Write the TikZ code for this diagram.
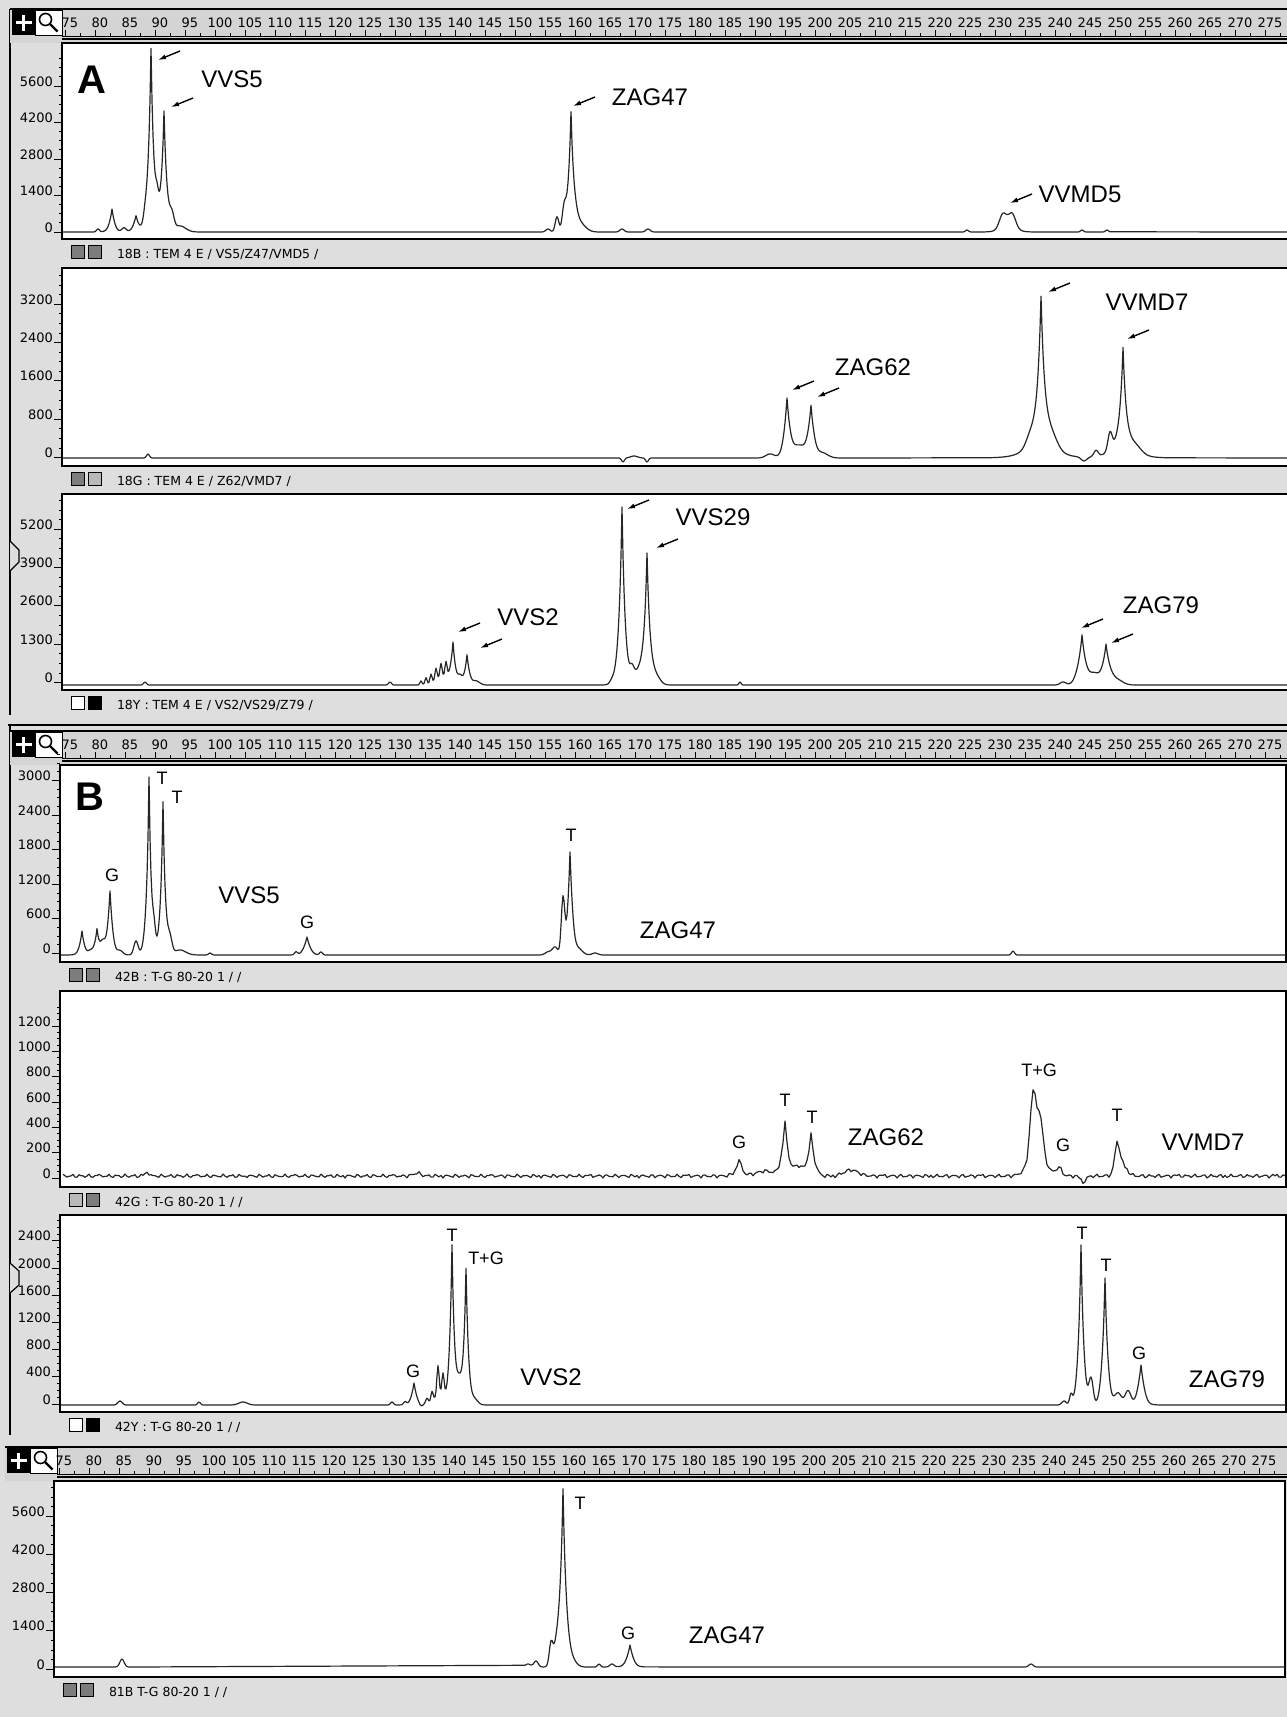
\documentclass[tikz,border=0pt]{standalone}
\usepackage{fontspec}
\setmainfont{Liberation Sans}
\newfontfamily\scrfont{DejaVu Sans}
\usetikzlibrary{arrows.meta,positioning}
\definecolor{bggray}{RGB}{222,222,222}
\definecolor{rulergray}{RGB}{212,212,212}
\definecolor{chipgray}{RGB}{125,125,125}
\definecolor{chiplight}{RGB}{185,185,185}
\tikzset{
    basic/.style={inner sep=0pt, outer sep=0pt},
    frame/.style={draw, line width=1.6pt, fill=white},
    trace/.style={line width=1.2pt, black!85, line join=round},
    scale label/.style={basic, font=\scrfont\fontsize{13}{13}\selectfont},
    axis label/.style={basic, anchor=base east, font=\scrfont\fontsize{13}{13}\selectfont},
    band text/.style={basic, anchor=base west, font=\scrfont\fontsize{12.5}{13}\selectfont},
    chip/.style={basic, draw, line width=1pt, minimum size=13pt},
    panel letter/.style={basic, font=\bfseries\fontsize{40}{40}\selectfont},
    marker/.style={basic, font=\fontsize{24}{24}\selectfont},
    allele/.style={basic, font=\fontsize{18}{18}\selectfont},
    pointer/.style={{Latex[length=8pt,width=5pt]}-, line width=1.4pt},
    declare function={
        pk(\X,\M,\W)=exp(-min(abs(\X-\M)/\W,9));
        gs(\X,\M,\W)=exp(-pow(min(abs(\X-\M)/\W,4),2));
    }
}
% ruler bar: left edge, top, first label x, name
\newcommand{\scalebar}[4]{%
    \fill[rulergray] (#1,#2) rectangle (1292,#2+34);
    \draw[line width=2pt] (#1,#2) -- (1292,#2);
    \node[basic, fill=black, minimum width=23pt, minimum height=25pt, anchor=north west] (#4-plus) at (#1+2,#2+1) {};
    \draw[white, line width=2.6pt] ([xshift=-8pt]#4-plus.center) -- ([xshift=8pt]#4-plus.center)
        ([yshift=-8pt]#4-plus.center) -- ([yshift=8pt]#4-plus.center);
    \node[basic, fill=white, draw, line width=0.8pt, minimum width=27pt, minimum height=25pt, right=0pt of #4-plus] (#4-lens) {};
    \draw[line width=1.6pt] ([shift={(-3pt,3pt)}]#4-lens.center) circle (6pt);
    \draw[line width=2.4pt] ([shift={(1.5pt,-1.5pt)}]#4-lens.center) -- ([shift={(9pt,-9pt)}]#4-lens.center);
    \foreach \v [count=\i from 0] in {75,80,...,275} {
        \node[scale label] (#4-s\i) at (#3+\i*30, #2+14) {\v};
        \draw[line width=1pt] (#3+\i*30-5, #2+21) -- (#3+\i*30-5, #2+27);
        \draw[line width=0.8pt] (#3+\i*30+10, #2+24) -- (#3+\i*30+10, #2+27);
    }
    \draw[line width=1pt] (#1+52,#2+27) -- (1292,#2+27);
    \draw[line width=1.6pt] (#1+52,#2+30) -- (1292,#2+30);
}
% plot body: left, top, bottom, right, chip colours, channel text, name
\newcommand{\plotpanel}[8]{%
    \draw[frame] (#1,#2) rectangle (#4,#3);
    \node[chip, fill=#5, anchor=north west] (#8-c1) at (#1+9,#3+6) {};
    \node[chip, fill=#6, right=4pt of #8-c1] (#8-c2) {};
    \node[band text] (#8-txt) at (#1+55,#3+19) {#7};
}
% y axis: axis x, zero line, step, labels, name
\newcommand{\yaxis}[5]{%
    \foreach \v [count=\i from 0] in {#4} {
        \node[axis label] (#5-\i) at (#1-9, #2-\i*#3) {\v};
        \draw[line width=1pt] (#1-8, #2-\i*#3) -- (#1, #2-\i*#3);
        \foreach \k in {1,2,3}
            \draw[line width=0.8pt] (#1-3, #2-\i*#3-\k*#3/4) -- (#1, #2-\i*#3-\k*#3/4);
    }
}

\begin{document}
\begin{tikzpicture}[x=1pt,y=-1pt]
    \useasboundingbox (0,0) rectangle (1287,1717);
    \fill[bggray] (0,0) rectangle (1287,1717);

    % ---------------- window A
    \draw[line width=1.6pt] (10,9) -- (10,715);
    \draw[fill=bggray, line width=1.2pt] (10,541) -- (19,550) -- (19,562) -- (10,571);
    \scalebar{10}{9}{70}{ra}
    \plotpanel{62}{43}{239}{1292}{chipgray}{chipgray}{18B : TEM 4 E / VS5/Z47/VMD5 /}{a1}
    \plotpanel{62}{268}{466}{1292}{chipgray}{chiplight}{18G : TEM 4 E / Z62/VMD7 /}{a2}
    \plotpanel{62}{494}{690}{1292}{white}{black}{18Y : TEM 4 E / VS2/VS29/Z79 /}{a3}
    \yaxis{62}{232}{36.5}{0,1400,2800,4200,5600}{ya1}
    \yaxis{62}{457.5}{38.3}{0,800,1600,2400,3200}{ya2}
    \yaxis{62}{682.5}{38.3}{0,1300,2600,3900,5200}{ya3}

    \draw[trace] (63,232)
        -- plot[domain=92:200,samples=109] (\x,{232-(3*gs(\x,98,2)+18*pk(\x,112,2.5)+5*gs(\x,112,4)+4*gs(\x,124,3)+12*pk(\x,136,2.8)+4*gs(\x,136,4)+5*gs(\x,145,2)+145*pk(\x,151,2.3)+38*gs(\x,151,6)+14*gs(\x,157,2)+92*pk(\x,164,2.3)+28*gs(\x,164,6)+13*gs(\x,172,3)+6*gs(\x,180,8))})
        -- plot[domain=540:660,samples=121] (\x,{232-(3*gs(\x,548,3)+15*gs(\x,557,2.5)+18*gs(\x,564,2.5)+88*pk(\x,571,2.3)+30*gs(\x,571,6)+8*gs(\x,580,8)+3*gs(\x,622,3)+3*gs(\x,648,3))})
        -- plot[domain=960:1110,samples=151] (\x,{232-(2*gs(\x,967,2)+15*gs(\x,1003,5)+15*gs(\x,1012,5)+4*gs(\x,1008,12)+2*gs(\x,1082,2)+2*gs(\x,1107,2))})
        -- (1292,232);
    \draw[trace] (63,458)
        -- plot[domain=140:156,samples=17] (\x,{458-4*gs(\x,148,2)})
        -- plot[domain=610:660,samples=51] (\x,{458+4*gs(\x,623,2)-2*gs(\x,634,5)+4*gs(\x,647,2)})
        -- plot[domain=700:870,samples=171] (\x,{458-(4*gs(\x,770,6)+42*pk(\x,787,2.8)+16*gs(\x,787,5)+12*gs(\x,799,9)+35*pk(\x,811,2.8)+15*gs(\x,811,5)+5*gs(\x,822,8))})
        -- plot[domain=990:1170,samples=181] (\x,{458-(8*gs(\x,1030,6)+115*pk(\x,1041,3.5)+45*pk(\x,1041,10)+10*gs(\x,1052,8)-4*gs(\x,1084,4)+6*gs(\x,1096,3)+18*gs(\x,1110,3)+78*pk(\x,1123,3)+32*pk(\x,1123,9)+6*gs(\x,1136,8))})
        -- (1292,458);
    \draw[trace] (63,685)
        -- plot[domain=137:153,samples=17] (\x,{685-3*gs(\x,145,2)})
        -- plot[domain=382:398,samples=17] (\x,{685-3*gs(\x,390,2)})
        -- plot[domain=410:495,samples=86] (\x,{685-(4*gs(\x,421,1.5)+7*gs(\x,426,1.5)+9*gs(\x,431,1.5)+12*gs(\x,436,1.5)+14*gs(\x,441,1.5)+15*gs(\x,446,1.5)+8*gs(\x,443,10)+28*pk(\x,453,2)+12*gs(\x,453,4)+8*gs(\x,460,3)+20*pk(\x,467,2)+10*gs(\x,467,4)+4*gs(\x,476,5))})
        -- plot[domain=600:690,samples=91] (\x,{685-(3*gs(\x,612,3)+145*pk(\x,622,2.5)+33*gs(\x,622,6)+12*gs(\x,632,3)+12*gs(\x,638,6)+105*pk(\x,647,2.5)+25*gs(\x,647,6)+8*gs(\x,656,6))})
        -- plot[domain=734:746,samples=13] (\x,{685-3*gs(\x,740,1.5)})
        -- plot[domain=1050:1145,samples=96] (\x,{685-(3*gs(\x,1063,4)+33*pk(\x,1082,3)+17*gs(\x,1082,7)+10*gs(\x,1094,6)+26*pk(\x,1106,3)+14*gs(\x,1106,7)+5*gs(\x,1117,8))})
        -- (1292,685);

    \node[panel letter] (a) at (92,80) {A};
    \node[marker] (a-vvs5) at (232,79) {VVS5};
    \node[marker] (a-zag47) at (650,97) {ZAG47};
    \node[marker] (a-vvmd5) at (1080,194) {VVMD5};
    \node[marker] (a-zag62) at (873,367) {ZAG62};
    \node[marker] (a-vvmd7) at (1147,302) {VVMD7};
    \node[marker] (a-vvs2) at (528,617) {VVS2};
    \node[marker] (a-vvs29) at (713,517) {VVS29};
    \node[marker] (a-zag79) at (1161,605) {ZAG79};
    \coordinate (vvs5-1) at (158,60);
    \coordinate (vvs5-2) at (171,107);
    \coordinate (zag47-1) at (573,106);
    \coordinate (vvmd5-1) at (1010,203);
    \coordinate (zag62-1) at (792,390);
    \coordinate (zag62-2) at (817,397);
    \coordinate (vvmd7-1) at (1048,292);
    \coordinate (vvmd7-2) at (1127,339);
    \coordinate (vvs2-1) at (458,632);
    \coordinate (vvs2-2) at (480,648);
    \coordinate (vvs29-1) at (627,509);
    \coordinate (vvs29-2) at (656,548);
    \coordinate (zag79-1) at (1081,628);
    \coordinate (zag79-2) at (1111,643);
    \foreach \c in {vvs5-1,vvs5-2,zag47-1,vvmd5-1,zag62-1,zag62-2,vvmd7-1,vvmd7-2,vvs2-1,vvs2-2,vvs29-1,vvs29-2,zag79-1,zag79-2}
        \draw[pointer] (\c) -- ++(22,-9);

    % ---------------- window B
    \draw[line width=2pt] (8,725) -- (1292,725);
    \draw[line width=1.6pt] (10,725) -- (10,1435);
    \draw[fill=bggray, line width=1.2pt] (10,1263) -- (19,1271) -- (19,1285) -- (10,1293);
    \scalebar{10}{731}{70}{rb}
    \plotpanel{60}{765}{962}{1286}{chipgray}{chipgray}{42B : T-G 80-20 1 / /}{b1}
    \plotpanel{60}{991}{1187}{1286}{chiplight}{chipgray}{42G : T-G 80-20 1 / /}{b2}
    \plotpanel{60}{1215}{1412}{1286}{white}{black}{42Y : T-G 80-20 1 / /}{b3}
    \yaxis{60}{953.5}{34.6}{0,600,1200,1800,2400,3000}{yb1}
    \yaxis{60}{1178}{25.3}{0,200,400,600,800,1000,1200}{yb2}
    \yaxis{60}{1404}{27.2}{0,400,800,1200,1600,2000,2400}{yb3}

    \draw[trace] (61,955)
        -- plot[domain=64:200,samples=137] (\x,{955-(18*pk(\x,82,2.2)+6*gs(\x,82,4)+3*gs(\x,90,3)+20*pk(\x,97,2.2)+6*gs(\x,97,5)+10*gs(\x,103,3)+48*pk(\x,110,2.4)+16*gs(\x,110,4)+4*gs(\x,120,4)+14*gs(\x,136,3)+145*pk(\x,149,1.9)+33*gs(\x,149,5)+15*gs(\x,154,2)+122*pk(\x,163,1.9)+31*gs(\x,163,5)+14*gs(\x,170,3)+5*gs(\x,180,8))})
        -- plot[domain=202:218,samples=17] (\x,{955-2*gs(\x,210,2)})
        -- plot[domain=288:330,samples=43] (\x,{955-(3*gs(\x,296,2)+13*pk(\x,307,3)+5*gs(\x,307,5)+3*gs(\x,321,2))})
        -- plot[domain=535:605,samples=71] (\x,{955-(3*gs(\x,548,4)+8*gs(\x,555,4)+55*gs(\x,563,2.4)+70*pk(\x,570,2.2)+32*gs(\x,570,4)+6*gs(\x,578,6)+2*gs(\x,595,4))})
        -- plot[domain=1005:1021,samples=17] (\x,{955-4*gs(\x,1013,2)})
        -- (1286,955);
    \draw[trace] plot[domain=63:1285,samples=612] (\x,{1176-(1.2*sin(mod(\x,49)*137)+0.8*sin(mod(\x,31)*71)+4*gs(\x,147,3)+3*gs(\x,417,5)+12*gs(\x,739,3)+4*gs(\x,739,8)+5*gs(\x,765,12)+38*pk(\x,785,2.6)+16*gs(\x,785,6)+10*gs(\x,798,6)+28*pk(\x,811,2.6)+14*gs(\x,811,6)+6*gs(\x,851,10)+65*gs(\x,1033,4)+40*gs(\x,1040,4)+22*gs(\x,1037,12)+8*gs(\x,1059,4)-6*gs(\x,1083,4)+25*gs(\x,1117,3)+14*gs(\x,1121,7))});
    \draw[trace] (61,1405)
        -- plot[domain=112:128,samples=17] (\x,{1405-4*gs(\x,120,3)})
        -- plot[domain=193:205,samples=13] (\x,{1405-3*gs(\x,199,2)})
        -- plot[domain=228:258,samples=31] (\x,{1405-3*gs(\x,243,6)})
        -- plot[domain=380:490,samples=111] (\x,{1405-(3*gs(\x,392,2)+3*gs(\x,405,2)+16*pk(\x,414,2.5)+6*gs(\x,414,4)-2*gs(\x,421,2)+6*gs(\x,427,2)+10*gs(\x,432,1.6)+30*gs(\x,438,1.6)+22*gs(\x,443,1.6)+10*gs(\x,440,8)+125*pk(\x,452,2)+33*gs(\x,452,4)+22*gs(\x,459,4)+105*pk(\x,466,2)+30*gs(\x,466,4)+6*gs(\x,474,5))})
        -- plot[domain=1055:1160,samples=106] (\x,{1405-(4*gs(\x,1064,3)+10*gs(\x,1071,2)+125*pk(\x,1081,2.2)+35*gs(\x,1081,5)+26*gs(\x,1091,3)+95*pk(\x,1105,2.2)+32*gs(\x,1105,5)+12*gs(\x,1118,5)+14*gs(\x,1128,4)+28*pk(\x,1141,3)+12*gs(\x,1141,5))})
        -- (1286,1405);

    \node[panel letter] (b) at (90,797) {B};
    \node[marker] (b-vvs5) at (249,895) {VVS5};
    \node[marker] (b-zag47) at (678,930) {ZAG47};
    \node[marker] (b-zag62) at (886,1137) {ZAG62};
    \node[marker] (b-vvmd7) at (1203,1142) {VVMD7};
    \node[marker] (b-vvs2) at (551,1377) {VVS2};
    \node[marker] (b-zag79) at (1227,1379) {ZAG79};
    \node[allele] (b1-g1) at (112,875) {G};
    \node[allele] (b1-t1) at (162,778) {T};
    \node[allele] (b1-t2) at (177,797) {T};
    \node[allele] (b1-g2) at (307,922) {G};
    \node[allele] (b1-t3) at (571,835) {T};
    \node[allele] (b2-g1) at (739,1142) {G};
    \node[allele] (b2-t1) at (785,1100) {T};
    \node[allele] (b2-t2) at (812,1117) {T};
    \node[allele] (b2-tg) at (1039,1070) {T+G};
    \node[allele] (b2-g2) at (1063,1145) {G};
    \node[allele] (b2-t3) at (1117,1115) {T};
    \node[allele] (b3-g1) at (413,1371) {G};
    \node[allele] (b3-t1) at (452,1235) {T};
    \node[allele] (b3-tg) at (486,1258) {T+G};
    \node[allele] (b3-t2) at (1082,1233) {T};
    \node[allele] (b3-t3) at (1106,1265) {T};
    \node[allele] (b3-g2) at (1139,1353) {G};

    % ---------------- window C
    \scalebar{5}{1447}{64}{rc}
    \plotpanel{54}{1481}{1677}{1285}{chipgray}{chipgray}{81B T-G 80-20 1 / /}{c1}
    \yaxis{54}{1669}{38.2}{0,1400,2800,4200,5600}{yc1}
    \draw[trace] (55,1667)
        -- plot[domain=112:132,samples=21] (\x,{1667-8*gs(\x,122,3)})
        -- plot[domain=525:645,samples=121] (\x,{1667-(3*gs(\x,528,4)+6*gs(\x,536,3)+22*gs(\x,551,2.5)+12*gs(\x,556,4)+135*pk(\x,563,2.6)+42*gs(\x,563,6)+6*gs(\x,572,6)+3*gs(\x,599,2)+3*gs(\x,612,3)+16*pk(\x,630,3)+6*gs(\x,630,5))})
        -- plot[domain=1023:1039,samples=17] (\x,{1667-3*gs(\x,1031,3)})
        -- (1285,1667);
    \node[marker] (c-zag47) at (727,1635) {ZAG47};
    \node[allele] (c-t1) at (580,1503) {T};
    \node[allele] (c-g1) at (628,1633) {G};
\end{tikzpicture}
\end{document}
